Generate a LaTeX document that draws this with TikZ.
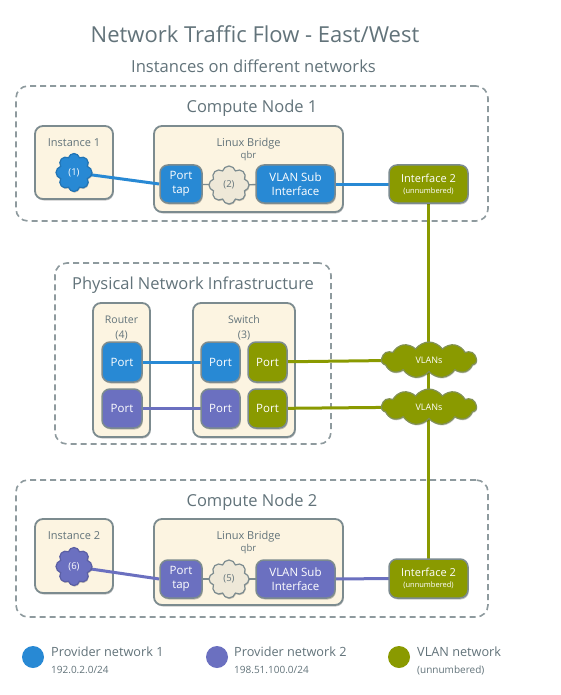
\documentclass[tikz,border=0pt]{standalone}
\usepackage{fontspec}
\setmainfont{Open Sans}
\usetikzlibrary{shapes.symbols,shadows}
\definecolor{pblue}{HTML}{2889D4}
\definecolor{ppurple}{HTML}{6B70C0}
\definecolor{polive}{HTML}{8A9A00}
\definecolor{beige}{HTML}{FCF4E1}
\definecolor{bordergray}{HTML}{7C8B8F}
\definecolor{dashgray}{HTML}{8E9A9E}
\definecolor{txt}{HTML}{62737A}
\definecolor{cloudbeige}{HTML}{EEE8D8}
\newcommand{\fs}[1]{\fontsize{#1}{#1}\selectfont}
\pgfdeclarelayer{bg}
\pgfdeclarelayer{lines}
\pgfsetlayers{bg,lines,main}
\tikzset{
  container/.style={draw=dashgray, line width=1.6pt, dash pattern=on 6pt off 4pt, rounded corners=12pt, inner sep=0pt},
  box/.style={draw=bordergray, line width=1.8pt, fill=beige, rounded corners=8pt, inner sep=0pt,
     drop shadow={shadow xshift=0.8pt, shadow yshift=-1.5pt, opacity=0.22, fill=black}},
  port/.style={draw=bordergray, line width=1.5pt, rounded corners=8pt, inner sep=0pt, text=white, align=center,
     font=\fontsize{11.5}{14.5}\selectfont,
     drop shadow={shadow xshift=0.8pt, shadow yshift=-1.5pt, opacity=0.22, fill=black}},
  bport/.style={port, fill=pblue},
  vport/.style={port, fill=ppurple},
  gport/.style={port, fill=polive},
  iface/.style={port, fill=polive, font=\fontsize{11}{12}\selectfont},
  blob/.style={cloud, cloud puffs=8, aspect=0.95, line width=1.2pt, inner sep=0pt,
     minimum width=36pt, minimum height=38pt, font=\fontsize{9.5}{11}\selectfont,
     drop shadow={shadow xshift=0.6pt, shadow yshift=-1.2pt, opacity=0.2, fill=black}},
  vcloud/.style={cloud, cloud puffs=11, cloud puff arc=110, aspect=2.7, draw=bordergray!60!polive, line width=1.2pt, fill=polive, inner sep=0pt,
     minimum width=95pt, minimum height=36pt, text=white, font=\fontsize{9}{11}\selectfont,
     drop shadow={shadow xshift=0.6pt, shadow yshift=-1.2pt, opacity=0.2, fill=black}},
  lbl/.style={anchor=base, text=txt, inner sep=0pt},
  wire/.style={line width=3pt},
  thin/.style={draw=bordergray, line width=1.3pt},
  legdot/.style={circle, minimum size=22pt, inner sep=0pt},
  legtxt/.style={anchor=base west, text=txt, inner sep=0pt},
}
\begin{document}
\begin{tikzpicture}[x=1pt,y=-1pt]
\useasboundingbox (0,0) rectangle (561,695);

% titles
\node[lbl, font=\fs{22}] (title) at (255,43) {Network Traffic Flow - East/West};
\node[lbl, font=\fs{16.6}] (subtitle) at (253.5,73) {Instances on different networks};

% containers
\begin{pgfonlayer}{bg}
\fill[white] (0,0) rectangle (561,695);
\node[container, minimum width=472pt, minimum height=135pt] (cn1) at (252,153.5) {};
\node[container, minimum width=276pt, minimum height=181pt] (phys) at (193,353.5) {};
\node[container, minimum width=472pt, minimum height=137pt] (cn2) at (252,548.5) {};
\node[box, minimum width=78pt, minimum height=73pt] (inst1) at (74,162.5) {};
\node[box, minimum width=189pt, minimum height=86pt] (br1) at (248.5,169) {};
\node[box, minimum width=57pt, minimum height=134pt] (router) at (121.5,370) {};
\node[box, minimum width=102pt, minimum height=134pt] (switch) at (244,370) {};
\node[box, minimum width=78pt, minimum height=74pt] (inst2) at (74,556) {};
\node[box, minimum width=189pt, minimum height=86pt] (br2) at (248.5,562) {};
\end{pgfonlayer}

\node[lbl, font=\fs{16.5}] (cn1l) at (252,113) {Compute Node 1};
\node[lbl, font=\fs{16.5}] (physl) at (193,289) {Physical Network Infrastructure};
\node[lbl, font=\fs{16.5}] (cn2l) at (252,506) {Compute Node 2};

\node[lbl, font=\fs{11}] (inst1l) at (74,147) {Instance 1};
\node[lbl, font=\fs{11}] (br1l) at (248.5,147) {Linux Bridge};
\node[lbl, font=\fs{9.5}] (br1q) at (248.5,158) {qbr};
\node[lbl, font=\fs{10.5}] (routerl) at (121.5,323) {Router};
\node[lbl, font=\fs{10.5}] (router4) at (121.5,338) {(4)};
\node[lbl, font=\fs{10.5}] (switchl) at (244,323) {Switch};
\node[lbl, font=\fs{10.5}] (switch3) at (244,338) {(3)};
\node[lbl, font=\fs{11}] (inst2l) at (74,539) {Instance 2};
\node[lbl, font=\fs{11}] (br2l) at (248.5,539) {Linux Bridge};
\node[lbl, font=\fs{9.5}] (br2q) at (248.5,551) {qbr};

% compute node 1
\node[blob, fill=pblue, draw=pblue!85!black, text=white] (c1) at (74,172.5) {(1)};
\node[bport, minimum width=42pt, minimum height=38pt] (tap1) at (181,184) {Port\\tap};
\node[blob, fill=cloudbeige, draw=bordergray, text=txt, minimum width=40pt] (c2) at (229,185) {(2)};
\node[bport, minimum width=79pt, minimum height=38pt] (vsub1) at (295.5,184) {VLAN Sub\\Interface};
\node[iface, minimum width=79pt, minimum height=38pt] (if1) at (428.5,184) {Interface 2\\[-1pt]{\fontsize{7.5}{9}\selectfont(unnumbered)}};

% physical
\node[bport, minimum width=40pt, minimum height=40pt] (rp1) at (122,362) {Port};
\node[vport, minimum width=40pt, minimum height=39pt] (rp2) at (122,408.5) {Port};
\node[bport, minimum width=39pt, minimum height=40pt] (sp1) at (220.5,362) {Port};
\node[vport, minimum width=39pt, minimum height=39pt] (sp2) at (220.5,408.5) {Port};
\node[gport, minimum width=39pt, minimum height=40pt] (sg1) at (267.5,362) {Port};
\node[gport, minimum width=39pt, minimum height=39pt] (sg2) at (267.5,408.5) {Port};
\node[vcloud] (v1) at (429,360) {VLANs};
\node[vcloud] (v2) at (429,407) {VLANs};

% compute node 2
\node[blob, fill=ppurple, draw=ppurple!85!black, text=white] (c6) at (74,566.5) {(6)};
\node[vport, minimum width=42pt, minimum height=38pt] (tap2) at (181,579) {Port\\tap};
\node[blob, fill=cloudbeige, draw=bordergray, text=txt, minimum width=40pt] (c5) at (229,579) {(5)};
\node[vport, minimum width=79pt, minimum height=38pt] (vsub2) at (295.5,579) {VLAN Sub\\Interface};
\node[iface, minimum width=79pt, minimum height=39pt] (if2) at (428.5,578.5) {Interface 2\\[-1pt]{\fontsize{7.5}{9}\selectfont(unnumbered)}};

% wires
\begin{pgfonlayer}{lines}
\draw[wire, pblue] (c1.center) -- (tap1.west);
\draw[thin] (tap1.center) -- (c2.center) -- (vsub1.center);
\draw[wire, pblue] (vsub1.center) -- (if1.center);
\draw[wire, polive] (if1.center) -- (if2.center);
\draw[wire, pblue] (rp1.center) -- (sp1.center);
\draw[wire, ppurple] (rp2.center) -- (sp2.center);
\draw[wire, polive] (sg1.center) -- (v1.center);
\draw[wire, polive] (sg2.center) -- (v2.center);
\draw[wire, ppurple] (c6.center) -- (tap2.west);
\draw[thin] (tap2.center) -- (c5.center) -- (vsub2.center);
\draw[wire, ppurple] (vsub2.center) -- (if2.center);
\end{pgfonlayer}

% legend
\node[legdot, fill=pblue] (d1) at (33,657) {};
\node[legtxt, font=\fs{12.7}] (l1) at (51,656) {Provider network 1};
\node[legtxt, font=\fs{10}] (l1s) at (51,673) {192.0.2.0/24};
\node[legdot, fill=ppurple] (d2) at (217,657) {};
\node[legtxt, font=\fs{12.7}] (l2) at (234,656) {Provider network 2};
\node[legtxt, font=\fs{10}] (l2s) at (234,673) {198.51.100.0/24};
\node[legdot, fill=polive] (d3) at (399,657) {};
\node[legtxt, font=\fs{12.7}] (l3) at (417,656) {VLAN network};
\node[legtxt, font=\fs{10}] (l3s) at (417,673) {(unnumbered)};
\end{tikzpicture}
\end{document}
